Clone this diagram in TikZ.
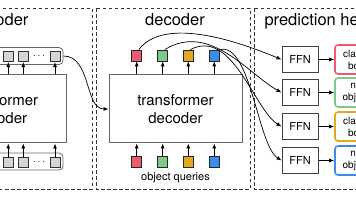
\documentclass[tikz,border=0pt]{standalone}
\usepackage{fontspec}
\setmainfont{TeX Gyre Heros}
\usetikzlibrary{arrows.meta}
\definecolor{qred}{HTML}{EE5A70}
\definecolor{qgreen}{HTML}{7CC98A}
\definecolor{qyellow}{HTML}{E2A920}
\definecolor{qblue}{HTML}{3A8DEB}
\definecolor{tokgray}{HTML}{D4D4D4}
\definecolor{boxgray}{HTML}{666666}
\begin{document}
\begin{tikzpicture}[x=1pt,y=1pt,
 frame/.style={draw=black!80, dash pattern=on 3.5pt off 2.5pt, line width=0.8pt},
 tok/.style={draw=black!80, fill=tokgray, line width=0.7pt, minimum width=10pt, minimum height=10pt, inner sep=0pt},
 query/.style={draw=black!85, fill=#1, line width=0.7pt, minimum width=10pt, minimum height=11pt, inner sep=0pt},
 row/.style={draw=boxgray, rounded corners=4pt, line width=0.8pt, minimum width=126pt, minimum height=17pt, inner sep=0pt},
 tbox/.style={draw=boxgray, line width=1pt, minimum width=133pt, minimum height=68pt, align=center, font=\fontsize{15}{18}\selectfont},
 ffn/.style={draw=black!75, line width=1pt, minimum width=36pt, minimum height=26pt, font=\fontsize{11}{13}\selectfont},
 outbox/.style={draw=#1, line width=1.6pt, rounded corners=3pt, minimum width=42pt, minimum height=29pt, align=center, font=\fontsize{10}{12}\selectfont},
 arr/.style={-{Latex[length=5pt,width=4pt]}, line width=0.7pt, black},
 title/.style={font=\fontsize{16.5}{19}\selectfont, anchor=base}
]
\useasboundingbox (0,0) rectangle (356,-200);
% frames
\draw[frame] (-150,-8.5) rectangle (92,-189.5);
\draw[frame] (96,-8.5) rectangle (250,-189.5);
\draw[frame] (254,-8.5) rectangle (420,-189.5);
% titles
\node[title, anchor=base east] (enct) at (32,-25.5) {encoder};
\node[title] (dect) at (175,-25.5) {decoder};
\node[title, anchor=base west] (predt) at (261,-25.5) {prediction heads};
% encoder
\node[tbox] (enc) at (0,-109) {transformer\\encoder};
\node[row] (enctop) at (0,-56) {};
\node[row] (encbot) at (0,-161.5) {};
\node[tok] (e1) at (8.3,-56.7) {};
\node[tok] (e2) at (23.3,-56.7) {};
\node (edots) at (39,-56.7) {$\cdots$};
\node[tok] (e3) at (55,-56.7) {};
\node[tok] (b1) at (8.3,-162) {};
\node[tok] (b2) at (23.3,-162) {};
\node (bdots) at (39,-162) {$\cdots$};
\node[tok] (b3) at (55,-162) {};
\foreach \i in {1,2,3}{
  \draw[arr] (enc.north -| e\i) -- (e\i.south);
  \draw[arr] (b\i.north) -- (enc.south -| b\i);
}
% decoder
\node[tbox] (dec) at (175.5,-109) {transformer\\decoder};
\node[query=qred] (q1) at (136.7,-55.5) {};
\node[query=qgreen] (q2) at (162.7,-55.5) {};
\node[query=qyellow] (q3) at (188.3,-55.5) {};
\node[query=qblue] (q4) at (214.3,-55.5) {};
\node[query=qred] (p1) at (136.7,-162) {};
\node[query=qgreen] (p2) at (162.7,-162) {};
\node[query=qyellow] (p3) at (188.3,-162) {};
\node[query=qblue] (p4) at (214.3,-162) {};
\foreach \i in {1,2,3,4}{
  \draw[arr] (dec.north -| q\i) -- (q\i.south);
  \draw[arr] (p\i.north) -- (dec.south -| p\i);
}
\node[font=\fontsize{11}{13}\selectfont, anchor=base] (oq) at (175.5,-181) {object queries};
% encoder to decoder
\draw[arr] (enctop.east) .. controls +(28,0) and +(-24,0) .. (dec.west);
% prediction heads
\node[ffn] (f1) at (300,-59.5) {FFN};
\node[ffn] (f2) at (300,-92.5) {FFN};
\node[ffn] (f3) at (300,-126.5) {FFN};
\node[ffn] (f4) at (300,-160.5) {FFN};
\node[outbox=qred] (o1) at (356,-59.5) {class,\\box};
\node[outbox=qgreen] (o2) at (356,-92.5) {no\\object};
\node[outbox=qyellow] (o3) at (356,-126.5) {class,\\box};
\node[outbox=qblue] (o4) at (356,-160.5) {no\\object};
\foreach \i in {1,2,3,4}{
  \draw[arr] (f\i.east) -- (o\i.west);
}
% query outputs to FFNs
\draw[arr] ([xshift=2pt]q1.north) .. controls +(26,34) and +(-42,17.5) .. (f1.west);
\draw[arr] ([xshift=2pt]q2.north) .. controls +(45,28) and +(-32,17.5) .. (f2.west);
\draw[arr] ([xshift=2pt]q3.north) .. controls +(42,22) and +(-27,16.5) .. (f3.west);
\draw[arr] (q4.north east) .. controls +(31,8) and +(-24,15.5) .. (f4.west);
\end{tikzpicture}
\end{document}
